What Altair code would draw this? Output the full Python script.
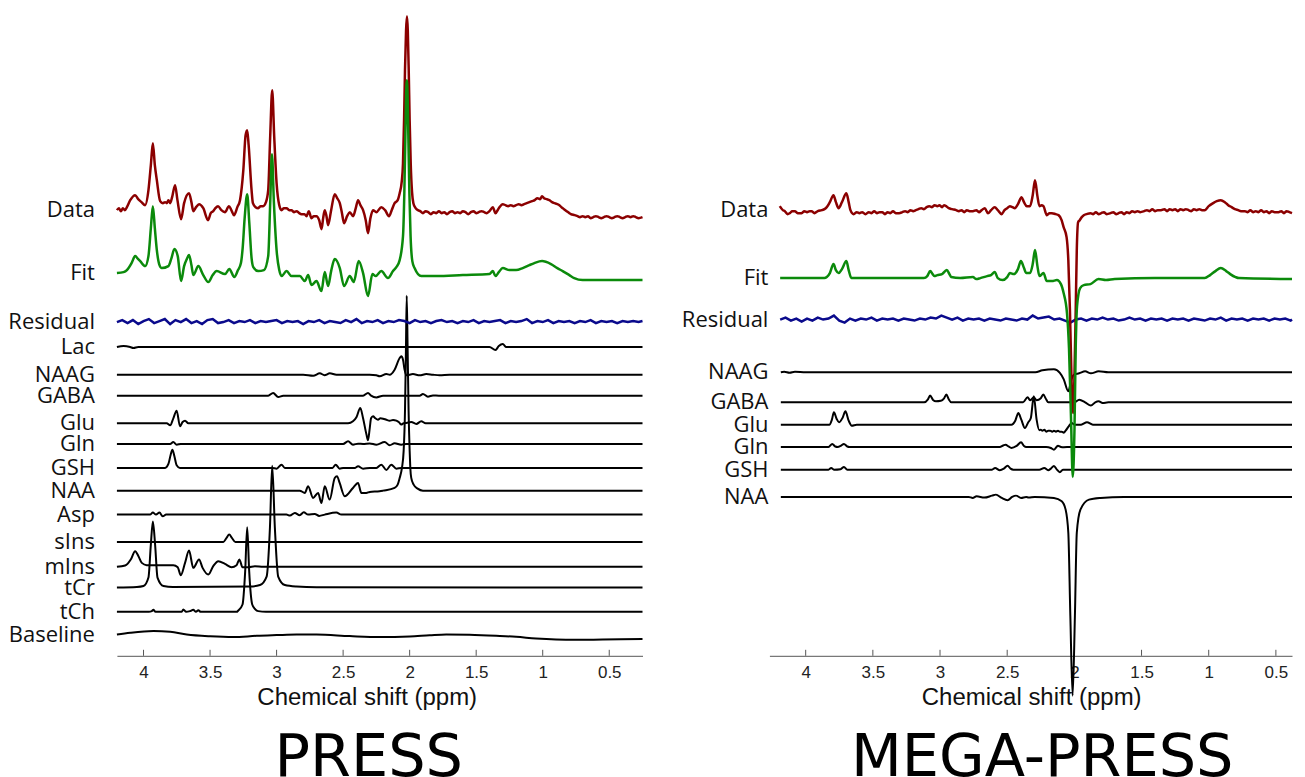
import altair as alt
import pandas as pd

# ---------------- axis ticks ----------------
TICKS = [4, 3.5, 3, 2.5, 2, 1.5, 1, 0.5]

# ---------------- left panel (PRESS) ----------------
L_LABELS = ["Data", "Fit", "Residual", "Lac", "NAAG", "GABA", "Glu", "Gln", "GSH",
            "NAA", "Asp", "sIns", "mIns", "tCr", "tCh", "Baseline"]
L_OFFSETS = [446, 383, 334, 309, 281.3, 260.3, 232.7, 212, 188, 165.3, 141.3, 114, 89, 68.3, 44, 21]

L_DATA = [(4.20,0),(4.185,2),(4.17,-1),(4.155,2),(4.14,0),(4.125,3),(4.10,10),(4.063,15),(4.04,11),(4.015,8),
 (3.988,5),(3.963,20),(3.945,45),(3.930,67),(3.915,45),(3.900,30),(3.875,9),(3.855,7),(3.838,8),(3.825,7),
 (3.813,10),(3.800,7),(3.785,13),(3.763,25),(3.745,10),(3.718,-9),(3.695,7),(3.658,17),(3.640,8),(3.626,-1),
 (3.605,3),(3.583,6),(3.551,2),(3.515,-10),(3.495,-3),(3.476,-1),(3.460,2),(3.440,4),(3.415,0),(3.388,-2),
 (3.358,4),(3.340,0),(3.320,-5),(3.295,3),(3.275,10),(3.250,40),(3.233,75),(3.221,80),(3.210,65),(3.188,20),
 (3.178,7),(3.158,3),(3.138,2),(3.120,4),(3.101,4),(3.080,8),(3.063,20),(3.048,74),(3.033,120),(3.018,74),
 (3.000,27),(2.980,5),(2.963,0),(2.945,2),(2.925,2),(2.905,0),(2.888,0),(2.870,-2),(2.850,-1),(2.830,-3),
 (2.813,-4),(2.790,-4),(2.775,-6),(2.758,-1),(2.738,-8),(2.720,-6),(2.700,-6),(2.680,-10),(2.662,-19),(2.650,-8),
 (2.638,0),(2.625,-6),(2.613,-15),(2.590,0),(2.563,16),(2.545,12),(2.525,7),(2.510,-2),(2.493,-13),(2.470,-6),
 (2.450,-2),(2.425,-6),(2.405,2),(2.388,10),(2.370,5),(2.350,0),(2.330,-10),(2.313,-23),(2.295,-8),(2.275,0),
 (2.250,-2),(2.213,3),(2.185,0),(2.155,-6),(2.135,0),(2.113,7),(2.090,10),(2.075,17),(2.060,28),(2.050,47),
 (2.042,90),(2.035,140),(2.027,180),(2.020,194),(2.014,180),(2.007,140),(2.000,90),(1.992,47),(1.982,18),(1.972,7),
 (1.955,2),(1.938,0),(1.92,-1),(1.90,-3),(1.88,-1),(1.86,-2),(1.84,-4),(1.82,-2),(1.80,-3),(1.78,-1),
 (1.76,-3),(1.74,-2),(1.72,-4),(1.70,-2),(1.68,-1),(1.66,-3),(1.64,-2),(1.62,-3),(1.60,-1),(1.58,-2),
 (1.56,-4),(1.54,-2),(1.52,-1),(1.50,-3),(1.48,-2),(1.46,-1),(1.44,-2),(1.42,-3),(1.40,-1),(1.375,3),
 (1.355,-3),(1.33,2),(1.30,6),(1.28,5),(1.26,4),(1.24,5),(1.22,4),(1.20,5),(1.18,6),(1.16,5),
 (1.14,6),(1.12,7),(1.10,8),(1.08,9),(1.06,10),(1.04,12),(1.02,11),(1.005,14),(0.99,12),(0.97,11),
 (0.95,10),(0.93,8),(0.91,7),(0.89,6),(0.875,5),(0.86,3),(0.84,1),(0.82,-1),(0.80,-3),(0.788,-4),
 (0.76,-5),(0.738,-6),(0.72,-7),(0.70,-6),(0.68,-7),(0.66,-6),(0.64,-8),(0.62,-7),(0.60,-6),(0.58,-7),
 (0.56,-8),(0.54,-7),(0.52,-6),(0.50,-7),(0.48,-8),(0.46,-7),(0.44,-6),(0.42,-7),(0.40,-8),(0.38,-7),
 (0.36,-6),(0.34,-7),(0.32,-6),(0.30,-7),(0.28,-8),(0.25,-7)]

L_FIT = [(4.20,0),(4.15,1),(4.125,3),(4.09,10),(4.063,17),(4.04,14),(4.025,12),(3.988,7),(3.963,17),(3.945,45),
 (3.930,67),(3.915,45),(3.900,23),(3.880,8),(3.863,5),(3.813,7),(3.790,15),(3.768,24),(3.743,17),(3.718,-8),
 (3.695,7),(3.675,14),(3.658,18),(3.640,8),(3.626,-2),(3.588,7),(3.551,-2),(3.513,-9),(3.480,-2),(3.450,2),
 (3.388,-1),(3.355,4),(3.318,-4),(3.290,3),(3.268,10),(3.255,25),(3.240,55),(3.221,79),(3.205,50),(3.188,15),
 (3.175,6),(3.138,2),(3.095,3),(3.063,17),(3.048,70),(3.035,119),(3.020,70),(3.000,23),(2.980,3),(2.963,-3),
 (2.925,2),(2.888,-3),(2.825,-3),(2.788,-8),(2.763,-2),(2.738,-12),(2.700,-8),(2.663,-18),(2.638,1),(2.613,-13),
 (2.590,2),(2.563,14),(2.525,5),(2.493,-13),(2.450,-3),(2.420,-9),(2.383,12),(2.350,0),(2.313,-23),(2.280,-1),
 (2.255,-3),(2.213,2),(2.163,-5),(2.125,2),(2.100,6),(2.075,13),(2.050,37),(2.040,80),(2.033,130),(2.027,175),
 (2.021,193),(2.015,175),(2.009,130),(2.002,80),(1.993,37),(1.980,12),(1.963,5),(1.913,-3),(1.800,-3),(1.600,-2),
 (1.400,-1),(1.375,2),(1.355,-3),(1.330,1),(1.300,5),(1.250,3),(1.200,3),(1.150,5),(1.100,8),(1.063,10),
 (1.005,12),(0.938,9),(0.890,5),(0.850,2),(0.800,-2),(0.763,-5),(0.700,-7),(0.25,-7)]

L_RESID_PPM = [4.20,4.16,4.12,4.08,4.04,4.00,3.96,3.92,3.88,3.84,3.80,3.76,3.72,3.68,3.64,3.60,3.56,3.52,3.48,3.44,
 3.40,3.36,3.32,3.28,3.24,3.20,3.16,3.12,3.08,3.04,3.00,2.96,2.92,2.88,2.84,2.80,2.76,2.72,2.68,2.64,
 2.60,2.56,2.52,2.48,2.44,2.40,2.36,2.32,2.28,2.24,2.20,2.16,2.12,2.08,2.04,2.00,1.96,1.92,1.88,1.84,
 1.80,1.76,1.72,1.68,1.64,1.60,1.56,1.52,1.48,1.44,1.40,1.36,1.32,1.28,1.24,1.20,1.16,1.12,1.08,1.04,
 1.00,0.96,0.92,0.88,0.84,0.80,0.76,0.72,0.68,0.64,0.60,0.56,0.52,0.48,0.44,0.40,0.36,0.32,0.28,0.25]
L_RESID_AMP = [0,2,-1,2,-2,1,3,-1,1,3, -2,2,0,3,-1,1,-2,2,3,-1, 0,2,-1,1,0,2,-1,1,0,1, 2,-1,1,0,1,-2,1,0,2,-1,
 1,0,-1,2,0,3,-1,1,0,2, -1,1,0,2,1,-1,2,0,1,-1, 1,2,0,1,-1,1,0,2,-1,1, 0,1,2,-1,1,0,1,3,-1,1,
 0,2,-1,1,0,1,-1,1,0,2, -1,1,0,1,-1,1,0,1,0,1]

L_LAC = [(4.20,0),(4.15,1),(4.10,0),(4.076,-1),(4.04,0),(1.40,0),(1.355,-3),(1.33,1),(1.30,3),(1.274,0),(0.25,0)]
L_NAAG = [(4.20,0),(2.80,0),(2.725,-1),(2.675,1.4),(2.64,-0.5),(2.60,1.4),(2.55,0),(2.30,0),(2.25,-0.6),(2.225,-1.6),
 (2.175,0.7),(2.15,0),(2.113,5),(2.075,16.7),(2.063,18.4),(2.05,15),(2.038,5),(2.025,-0.6),(1.975,0.7),(1.925,-0.6),
 (1.875,0.7),(1.825,0),(1.775,-0.5),(1.70,0),(0.25,0)]
L_GABA = [(4.20,0),(3.063,0),(3.026,2.7),(2.988,-1.3),(2.95,0),(2.35,0),(2.313,2.7),(2.29,0),(2.25,-1.7),(2.20,0),
 (1.925,0),(1.90,1.7),(1.863,-1),(1.825,0.3),(1.78,0),(0.25,0)]
L_GLU = [(4.20,0),(3.826,0),(3.80,-2),(3.776,5),(3.751,12.6),(3.726,-3),(3.706,1.3),(3.688,2.6),(3.663,0),(2.463,0),
 (2.426,2),(2.40,6),(2.371,15.3),(2.35,5),(2.325,-11),(2.313,-17),(2.30,-5),(2.29,5),(2.275,7),(2.258,5),
 (2.238,3.6),(2.22,5),(2.20,4.6),(2.175,3.5),(2.15,2.6),(2.125,3.3),(2.10,2.6),(2.08,1),(2.063,-1.3),(2.045,0),
 (2.025,0.3),(1.988,1.3),(1.95,-0.7),(1.913,2),(1.88,0),(0.25,0)]
L_GLN = [(4.20,0),(3.80,0),(3.776,2),(3.751,-0.7),(3.72,0),(2.50,0),(2.463,2.7),(2.426,-0.7),(2.388,0.3),(2.35,0),
 (2.30,0.5),(2.25,-0.7),(2.188,2),(2.15,-1.3),(2.113,0.7),(2.063,-0.7),(2.025,0),(0.25,0)]
L_GSH = [(4.20,0),(3.838,0),(3.813,4),(3.796,13.3),(3.783,18.3),(3.768,11.7),(3.751,2.7),(3.726,0),(3.03,0),(3.00,-0.7),
 (2.963,3.3),(2.938,0),(2.58,0),(2.556,3.3),(2.526,-0.7),(2.50,0),(2.41,0),(2.388,1.7),(2.35,-0.7),(2.30,0),
 (2.25,0),(2.213,3.3),(2.175,-2),(2.138,3.3),(2.10,-0.7),(2.063,0),(0.25,0)]
L_NAA = [(4.20,0),(2.826,0),(2.788,-2.3),(2.763,4.4),(2.726,-7.3),(2.688,-2.3),(2.663,-12.3),(2.638,4.4),(2.601,-9),(2.563,12.7),
 (2.546,14.4),(2.526,7.7),(2.488,-5.6),(2.426,2.7),(2.388,7.7),(2.363,-2.3),(2.326,-2.3),(2.30,-1.3),(2.226,-0.6),(2.20,0),
 (2.113,2.7),(2.09,6),(2.075,12.7),(2.058,22.7),(2.045,40),(2.035,80),(2.028,140),(2.022,195),(2.015,140),(2.008,80),
 (2.0,40),(1.995,22.7),(1.988,12.7),(1.97,6),(1.94,2),(1.90,0),(0.25,0)]
L_ASP = [(4.20,0),(3.951,0),(3.93,2),(3.906,0),(3.88,2),(3.856,-1.7),(3.83,0),(2.926,0),(2.90,-1),(2.863,1.7),
 (2.826,-0.6),(2.796,2.3),(2.763,0),(2.713,0.7),(2.68,-1.3),(2.638,0),(2.551,2),(2.513,0),(0.25,0)]
L_SINS = [(4.20,0),(3.40,0),(3.376,4),(3.356,7.3),(3.336,4),(3.31,0),(0.25,0)]
L_MINS = [(4.20,0),(4.138,1.3),(4.096,7.3),(4.063,15.7),(4.038,10.7),(4.013,4),(3.976,1.7),(3.90,1.5),(3.776,1.7),(3.743,-0.3),
 (3.72,-8.3),(3.688,4),(3.658,16.3),(3.626,-1),(3.583,7.3),(3.556,-1),(3.513,-7.7),(3.476,0.7),(3.438,5.7),(3.388,3),
 (3.338,-0.3),(3.301,1.7),(3.28,7.3),(3.256,-0.3),(3.213,-0.3),(3.163,0.7),(3.10,0),(0.25,0)]
L_TCR = [(4.20,0),(4.05,0.5),(4.00,1.5),(3.963,10),(3.945,43),(3.930,66),(3.913,43),(3.895,10),(3.85,1.5),(3.78,0.5),
 (3.20,1),(3.125,2.5),(3.075,11),(3.05,60),(3.033,122),(3.013,60),(2.988,11),(2.938,2.5),(2.85,1),(2.70,0.3),(0.25,0)]
L_TCH = [(4.20,0),(3.96,0),(3.938,0.7),(3.926,2),(3.91,0),(3.713,0),(3.701,2.3),(3.68,0),(3.651,0.7),(3.626,2),
 (3.606,0),(3.588,1.7),(3.571,0),(3.30,0),(3.288,1.3),(3.256,7.3),(3.236,40.7),(3.221,84.7),(3.206,40.7),(3.183,7.3),
 (3.16,2.5),(3.138,0.7),(3.08,0),(0.25,0)]
L_BASE = [(4.20,0.3),(4.10,2),(3.925,3.7),(3.80,3),(3.675,0.3),(3.50,-1.5),(3.325,-2.3),(3.15,-1),(3.0,-0.3),(2.85,0.3),
 (2.70,0.3),(2.45,-1.3),(2.225,-2.3),(2.0,-1.7),(1.85,-0.5),(1.725,0.3),(1.55,0),(1.35,-1),(1.20,-2),(1.05,-3.7),
 (0.90,-4.7),(0.75,-5),(0.55,-4.7),(0.25,-4.3)]

# ---------------- right panel (MEGA-PRESS) ----------------
R_LABELS = ["Data", "Fit", "Residual", "NAAG", "GABA", "Glu", "Gln", "GSH", "NAA"]
R_OFFSETS = [446, 378, 336.5, 283.7, 253.7, 231.3, 209, 186.3, 159]

R_DATA = [(4.193,4),(4.17,0),(4.155,-1),(4.135,-4),(4.118,-3),(4.10,-1),(4.08,-1),(4.06,-3),(4.03,-3),(4.01,-1),
 (3.99,-2),(3.97,-1),(3.956,-1),(3.935,-3),(3.91,-1),(3.88,0),(3.86,1),(3.843,3),(3.82,8),(3.793,15),
 (3.775,8),(3.755,2),(3.73,8),(3.697,17),(3.68,8),(3.667,0),(3.643,-4),(3.62,-2),(3.60,-3),(3.58,-2),
 (3.555,-4),(3.53,-2),(3.51,-3),(3.49,-1),(3.47,-3),(3.45,-2),(3.43,-2),(3.41,-4),(3.39,-2),(3.37,-3),
 (3.35,-1),(3.33,-3),(3.305,-3),(3.28,-2),(3.26,-1),(3.24,-2),(3.22,0),(3.20,-1),(3.18,0),(3.16,1),
 (3.14,2),(3.12,1),(3.10,3),(3.08,4),(3.06,3),(3.04,5),(3.02,4),(3.005,5),(2.985,3),(2.97,5),
 (2.955,4),(2.935,2),(2.91,1),(2.88,0),(2.86,-1),(2.84,0),(2.82,-2),(2.80,0),(2.78,-1),(2.755,-1),
 (2.73,0),(2.71,-2),(2.69,0),(2.667,2),(2.643,-3),(2.62,0),(2.593,3),(2.57,0),(2.542,-4),(2.52,0),
 (2.50,2),(2.48,4),(2.46,3),(2.443,2),(2.42,6),(2.393,13),(2.375,8),(2.355,4),(2.33,4),(2.31,15),
 (2.293,30),(2.275,14),(2.26,4),(2.245,5),(2.23,4),(2.205,-5),(2.185,-3),(2.167,-3),(2.14,-4),(2.118,-5),
 (2.095,-10),(2.08,-17),(2.058,-27),(2.045,-50),(2.033,-100),(2.021,-170),(2.01,-203),(2.0,-170),(1.99,-100),(1.982,-40),
 (1.972,-12),(1.96,-10),(1.945,-7),(1.93,-5),(1.91,-4),(1.88,-3),(1.86,-4),(1.84,-2),(1.82,-4),(1.80,-3),
 (1.78,-2),(1.76,-4),(1.73,-3),(1.71,-2),(1.69,-4),(1.67,-3),(1.65,-2),(1.63,-4),(1.61,-2),(1.59,-3),
 (1.57,-1),(1.55,-2),(1.53,-1),(1.51,-2),(1.48,-1),(1.46,0),(1.44,-1),(1.42,1),(1.40,-1),(1.38,0),
 (1.355,0),(1.33,1),(1.31,-1),(1.29,1),(1.27,0),(1.25,1),(1.23,-1),(1.21,1),(1.19,0),(1.17,1),
 (1.15,0),(1.13,-1),(1.11,1),(1.09,0),(1.07,1),(1.05,0),(1.03,0),(1.00,4),(0.967,7),(0.94,9),
 (0.91,10),(0.88,8),(0.855,5),(0.83,3),(0.805,1),(0.78,0),(0.76,-1),(0.73,-1),(0.71,-2),(0.69,0),
 (0.67,-2),(0.65,-1),(0.63,-2),(0.61,0),(0.59,-2),(0.57,-1),(0.55,-3),(0.53,-1),(0.51,-2),(0.48,-2),
 (0.46,-1),(0.44,-3),(0.42,-1),(0.40,-2),(0.38,-3)]

R_FIT = [(4.19,0),(3.86,0),(3.843,1),(3.82,5),(3.793,14),(3.775,8),(3.755,5),(3.73,9),(3.697,17),(3.68,8),
 (3.66,0),(3.12,0),(3.095,2),(3.073,7),(3.055,4),(3.043,2),(3.02,3),(2.985,4),(2.95,8),(2.93,4),
 (2.917,1),(2.85,0),(2.755,1),(2.73,-1),(2.70,0),(2.65,2),(2.62,3),(2.593,6),(2.57,0),(2.535,-2),
 (2.50,1),(2.48,5),(2.45,4),(2.42,9),(2.398,17),(2.375,10),(2.358,5),(2.33,5),(2.31,14),(2.293,28),
 (2.275,12),(2.26,2),(2.23,5),(2.205,-3),(2.167,-3),(2.13,-2),(2.10,-6),(2.08,-15),(2.055,-35),(2.04,-70),
 (2.025,-140),(2.012,-199),(1.999,-150),(1.99,-70),(1.98,-28),(1.957,-10),(1.93,-7),(1.88,-6),(1.82,-1),(1.765,-2),
 (1.70,-1),(1.40,0),(1.03,0),(0.99,3),(0.95,7),(0.91,10),(0.87,7),(0.84,4),(0.80,1),(0.775,0),(0.38,-1)]

R_RESID_PPM = [4.19,4.15,4.11,4.07,4.03,3.99,3.95,3.91,3.87,3.83,3.79,3.75,3.71,3.67,3.63,3.59,3.55,3.51,3.47,3.43,
 3.39,3.35,3.31,3.27,3.23,3.19,3.15,3.11,3.07,3.03,2.99,2.95,2.91,2.87,2.83,2.79,2.75,2.71,2.67,2.63,
 2.59,2.55,2.51,2.47,2.43,2.39,2.35,2.31,2.27,2.23,2.19,2.15,2.11,2.07,2.03,1.99,1.95,1.91,1.87,1.83,
 1.79,1.75,1.71,1.67,1.63,1.59,1.55,1.51,1.47,1.43,1.39,1.35,1.31,1.27,1.23,1.19,1.15,1.11,1.07,1.03,
 0.99,0.95,0.91,0.87,0.83,0.79,0.75,0.71,0.67,0.63,0.59,0.55,0.51,0.47,0.43,0.39,0.38]
R_RESID_AMP = [0,2,-1,1,-2,1,-1,2,0,1, 4,-1,-3,1,-1,1,0,2,-1,1, 0,1,-1,1,0,-1,1,0,2,1, 4,2,0,2,-1,1,0,1,-1,1,
 0,-1,1,0,-1,1,0,4,1,2, 3,0,1,-1,-3,0,1,-1,1,0, 2,0,1,-1,0,2,0,1,-1,1, 0,1,-1,1,0,1,-1,1,0,-1,
 1,0,2,-1,1,0,1,-1,1,0, 1,-1,1,0,1,-1,0]

R_NAAG = [(4.185,0),(4.16,0.5),(4.12,-0.5),(4.08,0.5),(4.0,0),(2.29,0),(2.238,2),(2.152,3),(2.108,-0.5),(2.079,-7),
 (2.045,-19),(2.030,-12),(2.021,-7),(2.0,-2),(1.964,-1),(1.92,1),(1.877,-1),(1.819,1),(1.747,0),(0.38,0)]
R_GABA = [(4.185,0),(3.118,0),(3.09,3),(3.074,6.7),(3.05,2),(3.031,1),(2.994,1.5),(2.97,4),(2.953,7.7),(2.935,3),
 (2.916,0),(2.382,0),(2.348,5),(2.330,2),(2.302,5),(2.281,2),(2.25,4),(2.232,7.7),(2.21,3),(2.195,0),
 (2.0,0),(1.964,2.6),(1.92,0),(1.877,-3.3),(1.845,0),(1.819,1),(1.79,-0.7),(1.747,0),(0.38,0)]
R_GLU = [(4.185,0),(3.824,0),(3.805,5),(3.79,12.4),(3.77,6),(3.752,2.4),(3.725,7),(3.704,13.4),(3.68,4),(3.657,-1),
 (3.62,0),(2.469,0),(2.44,4),(2.417,11.7),(2.395,5),(2.368,-3.3),(2.345,2),(2.324,6.7),(2.302,28.4),(2.281,5),
 (2.261,-5.6),(2.25,-5),(2.238,-6),(2.224,-5),(2.209,-7),(2.195,-6),(2.18,-6),(2.165,-7),(2.152,-6),(2.137,-7),
 (2.122,-6),(2.108,-7),(2.094,-7),(2.079,-8),(2.065,-6),(2.042,-1.6),(2.02,1.7),(2.0,0),(1.95,0),(1.906,2.5),
 (1.862,0),(0.38,0)]
R_GLN = [(4.185,0),(3.83,0),(3.802,3),(3.78,0.5),(3.761,0),(3.74,1),(3.715,3),(3.69,0.5),(3.674,0),(2.555,0),
 (2.53,1.5),(2.512,2.3),(2.49,0.5),(2.469,-1),(2.43,1),(2.397,4.7),(2.375,1),(2.359,0),(2.21,0),(2.175,-1),
 (2.152,-2.7),(2.122,1.3),(2.10,0),(2.079,-0.3),(2.03,0),(0.38,0)]
R_GSH = [(4.185,0),(3.83,0),(3.81,1.7),(3.79,0),(3.74,0.5),(3.715,2.7),(3.69,0),(2.613,0),(2.59,1.7),(2.555,-0.6),
 (2.525,1),(2.497,4),(2.475,1),(2.454,0),(2.261,0),(2.224,1.7),(2.195,-0.6),(2.175,1),(2.152,3.7),(2.13,0),
 (2.108,-2.6),(2.085,0),(2.065,0),(0.38,0)]
R_NAA = [(4.185,0),(2.786,0),(2.757,-1),(2.728,0.7),(2.67,-0.7),(2.613,1.3),(2.584,2.3),(2.541,-1),(2.497,-3.3),(2.463,0),
 (2.434,1.3),(2.397,-1),(2.359,0),(2.34,-0.7),(2.296,0),(2.152,-1),(2.094,-4.3),(2.065,-12.7),(2.045,-36),(2.03,-119),
 (2.013,-199),(1.996,-119),(1.982,-36),(1.955,-12.7),(1.891,-2.7),(1.805,-1),(1.63,0),(0.38,0)]

# ---------------- assembling ----------------
L_SERIES = {"Data": L_DATA, "Fit": L_FIT, "Residual": list(zip(L_RESID_PPM, L_RESID_AMP)),
            "Lac": L_LAC, "NAAG": L_NAAG, "GABA": L_GABA, "Glu": L_GLU, "Gln": L_GLN, "GSH": L_GSH,
            "NAA": L_NAA, "Asp": L_ASP, "sIns": L_SINS, "mIns": L_MINS, "tCr": L_TCR, "tCh": L_TCH,
            "Baseline": L_BASE}
R_SERIES = {"Data": R_DATA, "Fit": R_FIT, "Residual": list(zip(R_RESID_PPM, R_RESID_AMP)),
            "NAAG": R_NAAG, "GABA": R_GABA, "Glu": R_GLU, "Gln": R_GLN, "GSH": R_GSH, "NAA": R_NAA}

COL_DATA, COL_FIT, COL_RES = "#8b0000", "#0b8a0b", "#0a0a8c"


def frame(labels, offsets, series, names):
    rows = []
    for name, off in zip(labels, offsets):
        if name not in names:
            continue
        for p, a in series[name]:
            rows.append({"trace": name, "ppm": p, "y": off + a})
    return pd.DataFrame(rows)


def panel(labels, offsets, series, xdom, width, label_x, big, big_x, title_x):
    axis = alt.Axis(values=TICKS, format="~g", ticks=False, grid=False, domainColor="#555",
                    domainWidth=1, labelFont="Liberation Sans", labelFontSize=17, labelColor="#222",
                    labelPadding=9, title="Chemical shift (ppm)", titleFont="Liberation Sans",
                    titleFontSize=24, titleFontWeight="normal", titleColor="#111",
                    titleX=title_x, titleY=49, titleBaseline="alphabetic", titleAlign="center")
    xenc = alt.X("ppm:Q", scale=alt.Scale(domain=xdom, reverse=True, nice=False, zero=False), axis=axis)
    yenc = alt.Y("y:Q", scale=alt.Scale(domain=[0, 640], nice=False, zero=False), axis=None)

    black_names = [n for n in labels if n not in ("Data", "Fit", "Residual")]
    df_black = frame(labels, offsets, series, black_names)
    layers = []
    layers.append(alt.Chart(pd.DataFrame({"ppm": TICKS})).mark_rule(color="#555", strokeWidth=1)
                  .encode(x=xenc, y=alt.value(640), y2=alt.value(634)))
    layers.append(alt.Chart(df_black).mark_line(color="black", strokeWidth=2, interpolate="monotone")
                  .encode(x=xenc, y=yenc, detail="trace:N"))
    for name, col, interp in (("Residual", COL_RES, "linear"), ("Data", COL_DATA, "monotone"),
                              ("Fit", COL_FIT, "monotone")):
        layers.append(alt.Chart(frame(labels, offsets, series, [name]))
                      .mark_line(color=col, strokeWidth=2.5, interpolate=interp)
                      .encode(x=xenc, y=yenc))
    layers.append(alt.Chart(pd.DataFrame({"label": labels, "y": offsets}))
                  .mark_text(align="right", baseline="middle", font="Open Sans", fontSize=22, color="#111")
                  .encode(x=alt.value(label_x), y=yenc, text="label:N"))
    layers.append(alt.Chart(pd.DataFrame({"t": [big]}))
                  .mark_text(align="center", baseline="alphabetic", font="DejaVu Sans", fontSize=59, color="black")
                  .encode(x=alt.value(big_x), y=alt.value(760), text="t:N"))
    return alt.layer(*layers).properties(width=width, height=640)


left = panel(L_LABELS, L_OFFSETS, L_SERIES, [0.25, 4.2], 526, -22, "PRESS", 252, 250)
right = panel(R_LABELS, R_OFFSETS, R_SERIES, [0.38, 4.27], 523, -1, "MEGA-PRESS", 273, 262)

chart = alt.hconcat(left, right, spacing=127, bounds="flush").properties(
    padding={"left": 0, "top": 3, "right": 0, "bottom": 0},
).configure_view(stroke=None)

chart.save("out.html", embed_options={"renderer": "svg", "actions": False})
